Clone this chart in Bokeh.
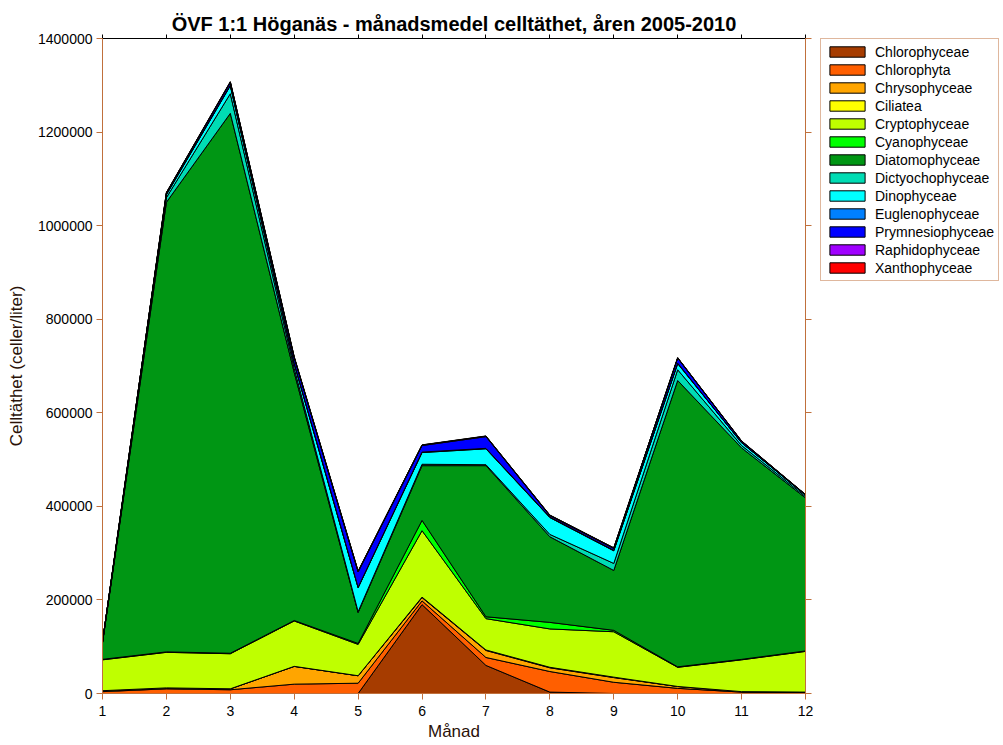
from bokeh.plotting import figure
from bokeh.layouts import row
from bokeh.models import (Range1d, LinearAxis, FixedTicker, Legend, LegendItem,
                          BasicTickFormatter, Title, CustomLabelingPolicy)
from bokeh.embed import file_html
from bokeh.resources import INLINE

months = [1, 2, 3, 4, 5, 6, 7, 8, 9, 10, 11, 12]
species = ["Chlorophyceae", "Chlorophyta", "Chrysophyceae", "Ciliatea", "Cryptophyceae",
           "Cyanophyceae", "Diatomophyceae", "Dictyochophyceae", "Dinophyceae",
           "Euglenophyceae", "Prymnesiophyceae", "Raphidophyceae", "Xanthophyceae"]
colors = ["#A63C00", "#FF5F00", "#FFA500", "#FFFF00", "#BFFF00", "#00FF00", "#009614",
          "#00DCB4", "#00FFFF", "#0080FF", "#0000FF", "#A000FF", "#FF0000"]

chlorophyceae = [0, 0, 0, 0, 0, 190000, 60000, 3000, 0, 0, 0, 0]
chlorophyta = [4000, 10000, 8000, 20000, 22000, 8000, 17000, 44000, 24000, 11000, 3000, 2000]
chrysophyceae = [2000, 2000, 2000, 38000, 16000, 7000, 15000, 8000, 10000, 4000, 1000, 1000]
ciliatea = [0, 0, 0, 0, 0, 1000, 1000, 1000, 1000, 0, 0, 0]
cryptophyceae = [66000, 76000, 75000, 97000, 67000, 142000, 67000, 82000, 97000, 41000, 68000, 87000]
cyanophyceae = [1000, 1000, 1000, 1000, 2000, 22000, 4000, 14000, 3000, 1000, 1000, 1000]
diatomophyceae = [35000, 961000, 1154000, 530000, 66000, 117000, 323000, 183000, 128000, 612000, 452000, 327000]
dictyochophyceae = [1000, 10000, 42000, 9000, 2000, 3000, 2000, 5000, 15000, 23000, 5000, 3000]
dinophyceae = [1000, 6000, 17000, 10000, 51000, 25000, 34000, 36000, 27000, 13000, 6000, 3000]
euglenophyceae = [0, 1000, 1000, 1000, 1000, 1000, 1000, 1000, 1000, 1000, 0, 0]
prymnesiophyceae = [1000, 3000, 6000, 12000, 33000, 14000, 25000, 3000, 4000, 11000, 3000, 1000]
raphidophyceae = [0, 500, 1000, 1000, 1000, 1000, 1000, 1000, 1000, 500, 500, 0]
xanthophyceae = [0, 500, 1000, 1000, 1000, 500, 500, 500, 500, 500, 500, 500]

series = [chlorophyceae, chlorophyta, chrysophyceae, ciliatea, cryptophyceae, cyanophyceae,
          diatomophyceae, dictyochophyceae, dinophyceae, euglenophyceae, prymnesiophyceae,
          raphidophyceae, xanthophyceae]

y_ticks = [0, 200000, 400000, 600000, 800000, 1000000, 1200000, 1400000]

AXC = "#C0703C"
FONT = "Liberation Sans"

p = figure(width=815, height=745, output_backend="svg", toolbar_location=None,
           x_range=Range1d(1, 12), y_range=Range1d(0, 1400000),
           min_border_left=102, min_border_right=10, min_border_top=38, min_border_bottom=52,
           background_fill_color="white", border_fill_color="white")
p.outline_line_color = None
p.grid.visible = False

p.title = Title(text="ÖVF 1:1 Höganäs - månadsmedel celltäthet, åren 2005-2010",
                text_font=FONT, text_font_size="20px", text_font_style="bold",
                align="center", text_color="black", standoff=0)

bottom = [0] * len(months)
for name, col, vals in zip(species, colors, series):
    top = [b + v for b, v in zip(bottom, vals)]
    xs = months + months[::-1]
    ys = top + bottom[::-1]
    p.patch(xs, ys, fill_color=col, line_color="black", line_width=1)
    bottom = top

# axes
xa = p.xaxis[0]
ya = p.yaxis[0]
xa.ticker = FixedTicker(ticks=months)
ya.ticker = FixedTicker(ticks=y_ticks)
ya.formatter = BasicTickFormatter(use_scientific=False)
for ax in (xa, ya):
    ax.axis_line_color = AXC
    ax.major_tick_line_color = AXC
    ax.minor_tick_line_color = None
    ax.major_tick_in = 0
    ax.major_tick_out = 6
    ax.major_label_text_font = FONT
    ax.major_label_text_font_size = "14px"
    ax.major_label_text_color = "black"
    ax.axis_label_text_font = FONT
    ax.axis_label_text_font_size = "17px"
    ax.axis_label_text_font_style = "normal"
    ax.axis_label_text_color = "#2a1208"
xa.axis_label = "Månad"
ya.axis_label = "Celltäthet (celler/liter)"
xa.major_label_standoff = 6
xa.axis_label_standoff = 3
ya.major_label_standoff = 4
ya.axis_label_standoff = 9

no_labels = CustomLabelingPolicy(code="""
const ids = [...indices];
for (const i of ids) { indices.unset(i) }
return indices
""")

top_ax = LinearAxis(ticker=FixedTicker(ticks=months), major_label_policy=no_labels,
                    major_label_overrides={m: "" for m in months},
                    axis_line_color="black", major_tick_line_color="black",
                    minor_tick_line_color=None, major_tick_in=0, major_tick_out=4,
                    major_label_standoff=0)
p.add_layout(top_ax, "above")
right_ax = LinearAxis(ticker=FixedTicker(ticks=y_ticks), major_label_policy=no_labels,
                      major_label_overrides={t: "" for t in y_ticks},
                      axis_line_color=AXC, major_tick_line_color=AXC,
                      minor_tick_line_color=None, major_tick_in=0, major_tick_out=6,
                      major_label_standoff=0)
p.add_layout(right_ax, "right")

# legend panel
q = figure(width=188, height=745, output_backend="svg", toolbar_location=None,
           x_axis_location=None, y_axis_location=None,
           min_border_left=5, min_border_top=38, min_border_right=0, min_border_bottom=0,
           x_range=Range1d(0, 1), y_range=Range1d(0, 1),
           background_fill_color="white", border_fill_color="white")
q.outline_line_color = None
q.grid.visible = False
nan = float("nan")
items = []
for name, col in zip(species, colors):
    r = q.patch([nan], [nan], fill_color=col, line_color="black", line_width=1)
    items.append(LegendItem(label=name, renderers=[r]))

legend = Legend(items=items, location="top_left", orientation="vertical",
                label_text_font=FONT, label_text_font_size="14px", label_text_color="black",
                glyph_width=44, glyph_height=13, label_height=17, spacing=1,
                label_standoff=6, padding=4, margin=0,
                border_line_color=AXC, border_line_width=1,
                background_fill_color="white", background_fill_alpha=1)
q.add_layout(legend)

layout = row(p, q, spacing=0)
open("out.html", "w").write(file_html(layout, INLINE))
